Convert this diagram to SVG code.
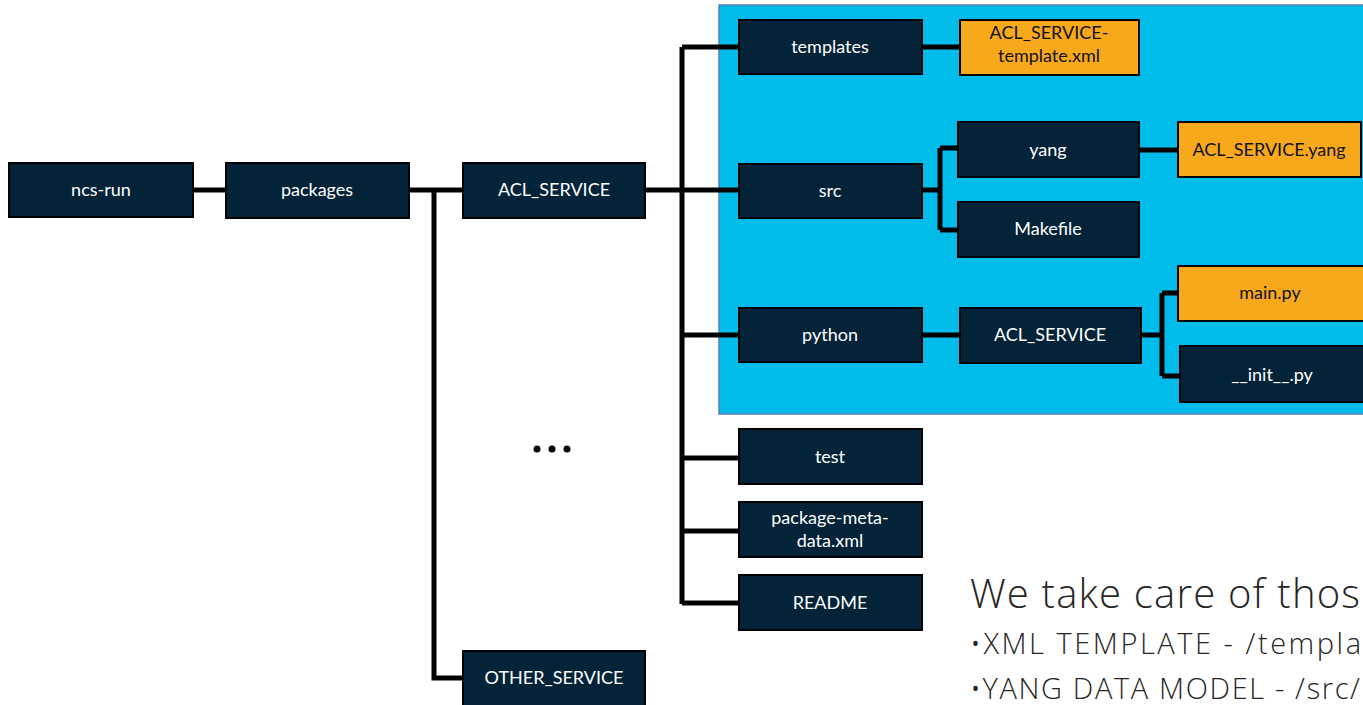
<svg xmlns="http://www.w3.org/2000/svg" width="1363" height="705" viewBox="0 0 1363 705">
  <style>
    .node rect { fill: #032339; stroke: #000; stroke-width: 2; }
    .node.file rect { fill: #F7A81B; }
    .node text { font-family: Lato, "Open Sans", sans-serif; font-size: 18px; fill: #fff; text-anchor: middle; }
    .node.file text { fill: #111; }
    .wire { fill: none; stroke: #000; stroke-width: 5; stroke-linejoin: miter; }
    .note { font-family: "Open Sans", Lato, sans-serif; font-weight: 300; fill: #262626; }
  </style>

  <rect width="1363" height="705" fill="#fff"/>

  <!-- package content highlight -->
  <rect id="highlight" x="719" y="5" width="650" height="409" fill="#00BCEB" stroke="#5a7fb8" stroke-width="1.5"/>

  <g id="connectors">
    <path class="wire" d="M193 190 H226"/>
    <path class="wire" d="M409 190 H463"/>
    <path class="wire" d="M434 190 V678 H463"/>
    <path class="wire" d="M645 190 H739"/>
    <path class="wire" d="M682 47 V604"/>
    <path class="wire" d="M682 47 H739"/>
    <path class="wire" d="M682 335 H739"/>
    <path class="wire" d="M682 458 H739"/>
    <path class="wire" d="M682 531 H739"/>
    <path class="wire" d="M682 603 H739"/>
    <path class="wire" d="M922 47 H960"/>
    <path class="wire" d="M922 190 H940"/>
    <path class="wire" d="M940 148 V230"/>
    <path class="wire" d="M940 148 H958"/>
    <path class="wire" d="M940 230 H958"/>
    <path class="wire" d="M1139 150 H1178"/>
    <path class="wire" d="M922 335 H960"/>
    <path class="wire" d="M1141 335 H1162"/>
    <path class="wire" d="M1162 293 V376"/>
    <path class="wire" d="M1162 293 H1178"/>
    <path class="wire" d="M1162 376 H1180"/>
  </g>

  <g id="ncs-run" class="node"><rect x="9" y="163" width="184" height="54"/><text x="101" y="196">ncs-run</text></g>
  <g id="packages" class="node"><rect x="226" y="163" width="183" height="55"/><text x="317" y="196">packages</text></g>
  <g id="acl-service" class="node"><rect x="463" y="163" width="182" height="55"/><text x="554" y="196">ACL_SERVICE</text></g>
  <g id="other-service" class="node"><rect x="463" y="651" width="182" height="60"/><text x="554" y="684">OTHER_SERVICE</text></g>

  <g id="templates" class="node"><rect x="739" y="20" width="183" height="54"/><text x="830" y="53">templates</text></g>
  <g id="template-xml" class="node file"><rect x="960" y="20" width="179" height="55"/><text x="1049" y="39"><tspan x="1049" dy="0">ACL_SERVICE-</tspan><tspan x="1049" dy="23">template.xml</tspan></text></g>

  <g id="src" class="node"><rect x="739" y="164" width="183" height="54"/><text x="830" y="197">src</text></g>
  <g id="yang" class="node"><rect x="958" y="122" width="181" height="55"/><text x="1048" y="156">yang</text></g>
  <g id="yang-file" class="node file"><rect x="1178" y="122" width="183" height="55"/><text x="1269" y="156">ACL_SERVICE.yang</text></g>
  <g id="makefile" class="node"><rect x="958" y="202" width="181" height="55"/><text x="1048" y="235">Makefile</text></g>

  <g id="python" class="node"><rect x="739" y="308" width="183" height="54"/><text x="830" y="341">python</text></g>
  <g id="python-acl-service" class="node"><rect x="960" y="308" width="181" height="55"/><text x="1050" y="341">ACL_SERVICE</text></g>
  <g id="main-py" class="node file"><rect x="1178" y="266" width="190" height="55"/><text x="1270" y="299">main.py</text></g>
  <g id="init-py" class="node"><rect x="1180" y="346" width="190" height="56"/><text x="1272" y="381">__init__.py</text></g>

  <g id="test" class="node"><rect x="739" y="429" width="183" height="55"/><text x="830" y="463">test</text></g>
  <g id="package-meta-data" class="node"><rect x="739" y="502" width="183" height="55"/><text x="830" y="524"><tspan x="830" dy="0">package-meta-</tspan><tspan x="830" dy="23">data.xml</tspan></text></g>
  <g id="readme" class="node"><rect x="739" y="575" width="183" height="55"/><text x="830" y="609">README</text></g>

  <!-- more packages -->
  <g id="ellipsis" fill="#000">
    <circle cx="537" cy="449" r="3.5"/>
    <circle cx="552" cy="449" r="3.5"/>
    <circle cx="567" cy="449" r="3.5"/>
  </g>

  <text class="note" x="970" y="608" font-size="40" textLength="390">We take care of thos</text>
  <text class="note" x="970" y="654" font-size="29" textLength="391">•XML TEMPLATE - /templa</text>
  <text class="note" x="970" y="699" font-size="29" textLength="390">•YANG DATA MODEL - /src/</text>
</svg>
